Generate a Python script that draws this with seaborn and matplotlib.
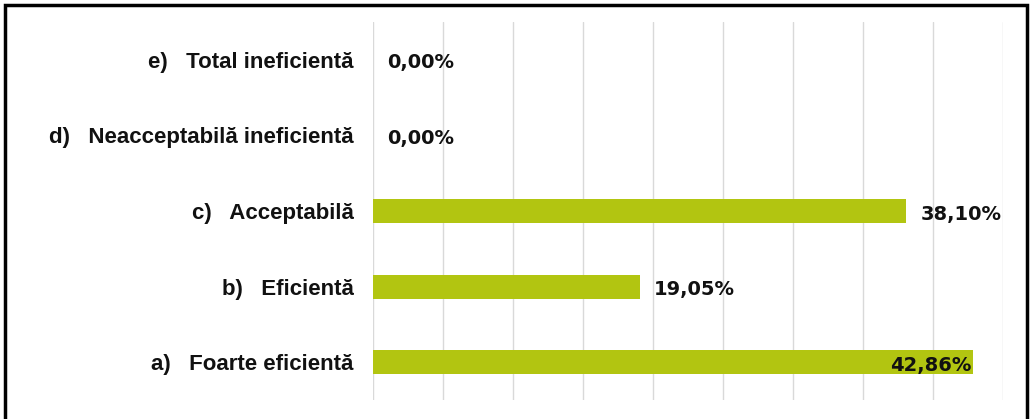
import matplotlib
matplotlib.use("Agg")
import matplotlib.pyplot as plt
import seaborn as sns
import pandas as pd
from matplotlib.patches import Rectangle

# Data (top to bottom as shown)
categories = [
    "e)   Total ineficientă",
    "d)   Neacceptabilă ineficientă",
    "c)   Acceptabilă",
    "b)   Eficientă",
    "a)   Foarte eficientă",
]
values = [0.00, 0.00, 38.10, 19.05, 42.86]
value_labels = ["0,00%", "0,00%", "38,10%", "19,05%", "42,86%"]

df = pd.DataFrame({"cat": categories, "val": values})

sns.set_style("white")
plt.rcParams["font.family"] = ["Liberation Sans", "DejaVu Sans"]

fig = plt.figure(figsize=(10.3, 4.19), dpi=100)
ax = fig.add_axes([0.362, 0.0453, 0.6118, 0.9022])

sns.barplot(data=df, x="val", y="cat", order=categories, color="#B2C511",
            saturation=1, width=0.32, linewidth=0, ax=ax, orient="h")

ax.set_xlim(0, 45)
ax.set_ylim(4.5, -0.5)
ax.set_xticks(range(0, 46, 5))
ax.set_xticklabels([])
ax.grid(axis="x", color="#D9D9D9", linewidth=1)
ax.set_axisbelow(True)
ax.tick_params(axis="both", length=0)
ax.tick_params(axis="y", pad=14)
for lab in ax.get_yticklabels():
    lab.set_fontweight("bold")
    lab.set_fontsize(16)
    lab.set_color("#111111")
ax.set_xlabel("")
ax.set_ylabel("")
for s in ax.spines.values():
    s.set_visible(False)

for i, (v, t) in enumerate(zip(values, value_labels)):
    if v > 40:
        ax.text(v - 0.1, i + 0.04, t, ha="right", va="center", fontsize=14,
                fontweight="bold", family=["DejaVu Sans"], color="#111111")
    else:
        ax.text(v + 1.0, i + 0.04, t, ha="left", va="center", fontsize=14,
                fontweight="bold", family=["DejaVu Sans"], color="#111111")

# outer frame of the chart area
fig.patches.append(Rectangle((5 / 1030, -0.05), 1022 / 1030, 1 - 5 / 419 + 0.05,
                             transform=fig.transFigure, fill=False,
                             edgecolor="black", linewidth=2.5))

fig.savefig("out.png", dpi=100)
